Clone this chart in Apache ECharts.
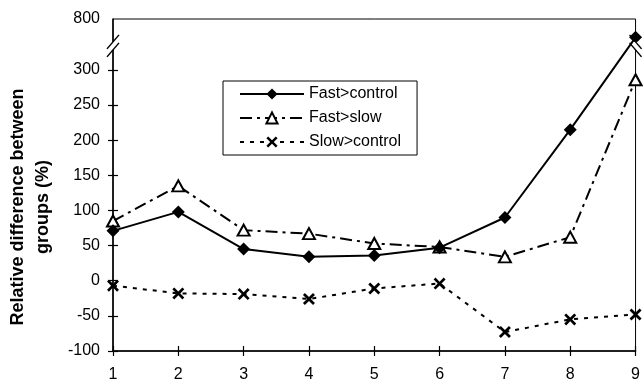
<!DOCTYPE html>
<html>
<head>
<meta charset="utf-8">
<script src="https://cdn.jsdelivr.net/npm/echarts@6/dist/echarts.min.js"></script>
<style>
html,body{margin:0;padding:0;background:#fff;}
#chart{width:643px;height:383px;}
</style>
</head>
<body>
<div id="chart"></div>
<script>
// ---- data ----
const categories = [1, 2, 3, 4, 5, 6, 7, 8, 9];
const fastControl = [71, 98, 45, 34, 36, 47, 90, 215, 620];
const fastSlow = [85, 135, 72, 67, 53, 48, 34, 62, 286];
const slowControl = [-7, -18, -19, -26, -11, -4, -73, -55, -48];
const yTickLabels = [-100, -50, 0, 50, 100, 150, 200, 250, 300, 800];
const seriesNames = ['Fast>control', 'Fast>slow', 'Slow>control'];
const yTitle = 'Relative difference between\ngroups (%)';

// ---- broken axis transform (300 .. 800 compressed) ----
const BREAK_LOW = 300, BREAK_HIGH = 800, BREAK_SPAN = 72.5;
function toDisplay(v) {
  if (v <= BREAK_LOW) return v;
  return BREAK_LOW + (v - BREAK_LOW) * BREAK_SPAN / (BREAK_HIGH - BREAK_LOW);
}
const yMin = yTickLabels[0];
const yMax = toDisplay(BREAK_HIGH);
const yTickDisplay = yTickLabels.map(toDisplay);
function labelFor(d) {
  for (let i = 0; i < yTickLabels.length; i++) {
    if (Math.abs(yTickDisplay[i] - d) < 0.01) return String(yTickLabels[i]);
  }
  return '';
}
function pairs(arr) { return categories.map((c, i) => [c, toDisplay(arr[i])]); }

const FONT = '"Liberation Sans", Arial, Helvetica, sans-serif';
const xPath = 'path://M0,1.6 L1.6,0 L5,3.4 L8.4,0 L10,1.6 L6.6,5 L10,8.4 L8.4,10 L5,6.6 L1.6,10 L0,8.4 L3.4,5 Z';

const chart = echarts.init(document.getElementById('chart'), null, {renderer: 'canvas'});
const grid = {left: 113, right: 6, top: 19, bottom: 30, show: true, borderColor: '#000', borderWidth: 1, backgroundColor: 'transparent'};
const axisLineStyle = {color: '#000', width: 1.5};

const option = {
  animation: false,
  backgroundColor: '#fff',
  grid: grid,
  legend: {
    orient: 'vertical',
    left: 223, top: 81,
    padding: [5, 16, 5, 16],
    itemWidth: 64, itemHeight: 14, itemGap: 8,
    borderColor: '#000', borderWidth: 1,
    textStyle: {fontFamily: FONT, fontSize: 16, color: '#000'},
    data: seriesNames
  },
  xAxis: [{
    type: 'value', min: categories[0], max: categories[categories.length - 1], interval: 1,
    position: 'bottom',
    splitLine: {show: false},
    axisLine: {onZero: false, lineStyle: axisLineStyle},
    axisTick: {inside: false, length: 5, lineStyle: {color: '#000', width: 1.2}},
    axisLabel: {margin: 16, fontFamily: FONT, fontSize: 16, color: '#000'}
  }, {
    type: 'value', min: categories[0], max: categories[categories.length - 1], interval: 1,
    position: 'bottom',
    splitLine: {show: false},
    axisLine: {show: false, onZero: false},
    axisTick: {inside: true, length: 5, lineStyle: {color: '#000', width: 1.2}},
    axisLabel: {show: false}
  }],
  yAxis: [{
    type: 'value', min: yMin, max: yMax,
    position: 'left',
    splitLine: {show: false},
    axisLine: {onZero: false, lineStyle: axisLineStyle},
    axisTick: {inside: false, length: 5, customValues: yTickDisplay.slice(0, -1), lineStyle: {color: '#000', width: 1.2}},
    axisLabel: {margin: 13, customValues: yTickDisplay, formatter: labelFor, fontFamily: FONT, fontSize: 16, color: '#000'}
  }, {
    type: 'value', min: yMin, max: yMax,
    position: 'left',
    splitLine: {show: false},
    axisLine: {show: false, onZero: false},
    axisTick: {inside: true, length: 5, customValues: yTickDisplay.slice(0, -1), lineStyle: {color: '#000', width: 1.2}},
    axisLabel: {show: false}
  }],
  series: [{
    name: seriesNames[0], type: 'line', data: pairs(fastControl),
    symbol: 'diamond', symbolSize: 13,
    itemStyle: {color: '#000'},
    lineStyle: {color: '#000', width: 2, type: 'solid'},
    z: 4
  }, {
    name: seriesNames[1], type: 'line', data: pairs(fastSlow),
    symbol: 'triangle', symbolSize: [12, 11],
    itemStyle: {color: '#fff', borderColor: '#000', borderWidth: 2},
    lineStyle: {color: '#000', width: 2, type: [12, 5, 3, 5]},
    z: 3
  }, {
    name: seriesNames[2], type: 'line', data: pairs(slowControl),
    symbol: xPath, symbolSize: 12,
    itemStyle: {color: '#000'},
    lineStyle: {color: '#000', width: 2, type: [4, 6]},
    z: 3
  }]
};
chart.setOption(option);

// axis break marks and rotated axis title
const breakDisplay = (toDisplay(BREAK_LOW) + yMax) / 2 - 2;
const pL = chart.convertToPixel({gridIndex: 0}, [categories[0], breakDisplay]);
const pR = chart.convertToPixel({gridIndex: 0}, [categories[categories.length - 1], breakDisplay]);
const gb = chart.convertToPixel({gridIndex: 0}, [categories[0], yMin]);
const gt = chart.convertToPixel({gridIndex: 0}, [categories[0], yMax]);
function breakMarks(p, dir) {
  const els = [];
  els.push({type: 'rect', z: 100, shape: {x: p[0] - 2, y: p[1] - 4, width: 4, height: 8}, style: {fill: '#fff'}});
  [-4, 4].forEach(off => {
    els.push({type: 'line', z: 101, shape: {x1: p[0] - 6, y1: p[1] + off + 7 * dir, x2: p[0] + 6, y2: p[1] + off - 7 * dir}, style: {stroke: '#000', lineWidth: 1.5}});
  });
  return els;
}
chart.setOption({
  graphic: [].concat(
    breakMarks(pL, 1),
    breakMarks(pR, -1),
    [{type: 'text', z: 100, x: 31, y: (gb[1] + gt[1]) / 2 + 22, rotation: Math.PI / 2,
      style: {text: yTitle, font: 'bold 18px ' + FONT, fill: '#000', align: 'center', verticalAlign: 'middle', lineHeight: 25}}]
  )
});
</script>
</body>
</html>
